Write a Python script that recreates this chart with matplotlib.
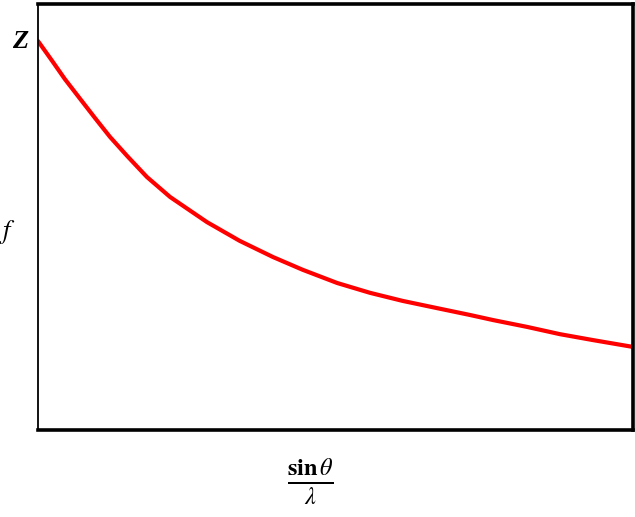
import matplotlib
matplotlib.use("Agg")
import matplotlib.pyplot as plt

plt.rcParams['mathtext.fontset'] = 'stix'
plt.rcParams['font.family'] = ['Liberation Serif', 'DejaVu Serif']

# scattering factor f against sin(theta)/lambda
s = [0, 0.024, 0.045, 0.071, 0.096, 0.121, 0.150, 0.183, 0.222, 0.284,
     0.339, 0.395, 0.445, 0.503, 0.558, 0.613, 0.671, 0.726, 0.765, 0.822,
     0.877, 0.933, 1.0]
f = [0.913, 0.866, 0.824, 0.777, 0.732, 0.688, 0.643, 0.594, 0.547, 0.488,
     0.444, 0.406, 0.376, 0.345, 0.322, 0.303, 0.286, 0.270, 0.258, 0.242,
     0.225, 0.211, 0.195]

fig = plt.figure(figsize=(6.35, 5.17), dpi=100)
ax = fig.add_axes([38/635, 87/517, 595/635, 426/517])

ax.plot(s, f, color='#ff0000', lw=3.0, solid_capstyle='round',
        solid_joinstyle='round')
ax.set_xlim(0, 1)
ax.set_ylim(0, 1)
ax.set_xticks([])
ax.set_yticks([])

ax.spines['left'].set_linewidth(1.3)
for side in ['top', 'right', 'bottom']:
    ax.spines[side].set_linewidth(2.6)

fig.text(20/635, 1 - 42/517, 'Z', fontsize=19, fontstyle='italic',
         fontweight='bold', ha='center', va='center')
fig.text(8/635, 1 - 232/517, r'$f$', fontsize=19, ha='center', va='center')
fig.text(310/635, 1 - 481/517,
         r'$\frac{\mathbf{sin}\,\theta}{\lambda}$',
         fontsize=25, ha='center', va='center')

fig.savefig('out.png', dpi=100)
